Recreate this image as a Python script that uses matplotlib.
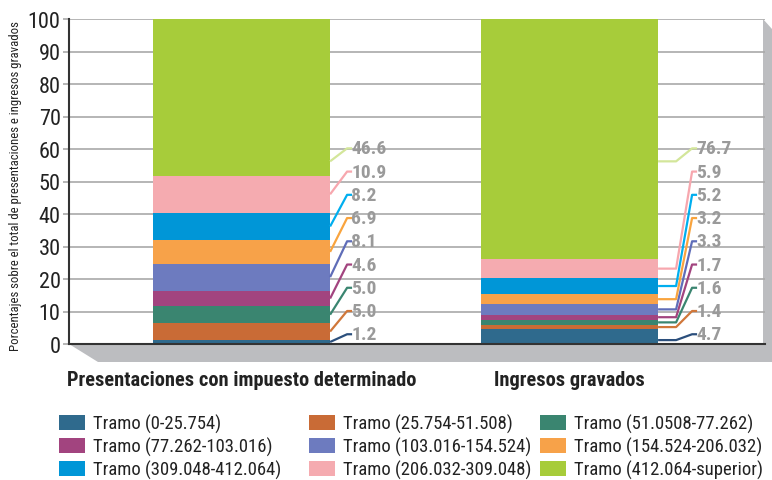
import matplotlib
matplotlib.use("Agg")
import matplotlib.pyplot as plt
from matplotlib.patches import Polygon, Patch
import numpy as np

# ---------------- data ----------------
categories = ["Presentaciones con impuesto determinado", "Ingresos gravados"]
tramos = [
    "Tramo (0-25.754)",
    "Tramo (25.754-51.508)",
    "Tramo (51.0508-77.262)",
    "Tramo (77.262-103.016)",
    "Tramo (103.016-154.524)",
    "Tramo (154.524-206.032)",
    "Tramo (309.048-412.064)",
    "Tramo (206.032-309.048)",
    "Tramo (412.064-superior)",
]
presentaciones = [1.2, 5.0, 5.0, 4.6, 8.1, 6.9, 8.2, 10.9, 46.6]
ingresos = [4.7, 1.4, 1.6, 1.7, 3.3, 3.2, 5.2, 5.9, 76.7]
yticks = [0, 10, 20, 30, 40, 50, 60, 70, 80, 90, 100]
ylabel = "Porcentajes sobre el total de presentaciones e ingresos gravados"

colors = ["#2f6a8d", "#c96b36", "#3a8570", "#a2447f", "#6d7bbf",
          "#f7a249", "#0096d7", "#f5abb0", "#a7cc3a"]
line_colors = ["#2b4f7c", "#d0773a", "#3a8570", "#a2447f", "#5f6db8",
               "#f9a43e", "#00aeef", "#f7a7ae", "#d3e69a"]

NARROW = ["Roboto Condensed", "DejaVu Sans"]
plt.rcParams["font.family"] = NARROW

W, H = 772, 481
fig = plt.figure(figsize=(W / 100, H / 100), dpi=100)

# background decorations (floor and right wall), in pixel coordinates
bg = fig.add_axes([0, 0, 1, 1], zorder=0)
bg.set_xlim(0, W)
bg.set_ylim(H, 0)
bg.axis("off")
bg.add_patch(Polygon([(69, 345), (772, 345), (772, 363), (98, 363)],
                     closed=True, facecolor="#bcbdc0", edgecolor="none"))
bg.add_patch(Polygon([(763, 20), (772, 30), (772, 345), (763, 345)],
                     closed=True, facecolor="#bcbdc0", edgecolor="none"))

ax_l, ax_r, ax_t, ax_b = 69, 765, 20, 345
ax = fig.add_axes([ax_l / W, 1 - ax_b / H, (ax_r - ax_l) / W, (ax_b - ax_t) / H],
                  zorder=1)
ax.patch.set_alpha(0)

x = np.array([0.0, 1.0])
bw = 0.54
pxu = 328.0  # pixels per x unit
ax.set_xlim(-0.526, -0.526 + (ax_r - ax_l) / pxu)
ax.set_ylim(0, 100)

series = [presentaciones, ingresos]
label_y = [3.0 + i * 7.15 for i in range(len(tramos))]

for bi, vals in enumerate(series):
    vals = np.array(vals, dtype=float)
    pct = vals / vals.sum() * 100
    bottoms = np.concatenate([[0], np.cumsum(pct)[:-1]])
    for si in range(len(vals)):
        ax.bar(x[bi], pct[si], bottom=bottoms[si], width=bw,
               color=colors[si], zorder=3, linewidth=0)
    edge = x[bi] + bw / 2
    for si in range(len(vals)):
        mid = bottoms[si] + pct[si] / 2
        ly = label_y[si]
        start = max(min(mid, ly - 4), min(mid, bottoms[si] + 1.2))
        if bi == 0:
            xs = [edge, edge + 17 / pxu, edge + 22 / pxu]
            ys = [start, ly, ly]
            tx = edge + 21 / pxu
        else:
            xs = [edge, edge + 18 / pxu, edge + 34 / pxu, edge + 39 / pxu]
            ys = [start, start, ly, ly]
            tx = edge + 38 / pxu
        ax.plot(xs, ys, color=line_colors[si], lw=1.6, zorder=4,
                solid_capstyle="butt", clip_on=False)
        ax.text(tx, ly, f"{vals[si]:.1f}", color="#9a9a9a", fontsize=14,
                fontweight="bold", va="center", ha="left", zorder=5,
                family=NARROW)

# grid
ax.set_yticks(yticks)
ax.yaxis.grid(True, color="#a9a9a9", lw=1.2, zorder=0)
ax.set_axisbelow(True)
ax.set_xticks([])
ax.tick_params(axis="y", length=4, color="#a9a9a9", width=1.2,
               labelsize=16, labelcolor="#222222", pad=2)
for s in ["top", "right"]:
    ax.spines[s].set_visible(False)
for s in ["left", "bottom"]:
    ax.spines[s].set_color("#333333")
    ax.spines[s].set_linewidth(1.5)
    ax.spines[s].set_zorder(6)

fig.text(16 / W, 1 - 186 / H, ylabel, rotation=90, ha="center", va="center",
         fontsize=9.2, color="#222222")

# category labels
for bi, cat in enumerate(categories):
    cx = ax_l + (x[bi] + 0.526) * pxu
    fig.text(cx / W, 1 - 381 / H, cat, ha="center", va="center",
             fontsize=14.7, fontweight="bold", color="#222222")

# legend: three columns, filled row-wise
leg_fs = 13.4
fs_px = leg_fs * 100 / 72
col_x = [59, 309, 540]
for c in range(3):
    idx = [c, c + 3, c + 6]
    handles = [Patch(facecolor=colors[i], edgecolor="none") for i in idx]
    labels = [tramos[i] for i in idx]
    leg = fig.legend(handles, labels, ncol=1, loc="center left",
                     bbox_to_anchor=(col_x[c] / W, 1 - 447.5 / H), frameon=False,
                     fontsize=leg_fs, handlelength=26 / fs_px,
                     handleheight=16 / fs_px, handletextpad=8 / fs_px,
                     labelspacing=0.21, borderpad=0, borderaxespad=0,
                     labelcolor="#222222")

fig.savefig("out.png", dpi=100)
